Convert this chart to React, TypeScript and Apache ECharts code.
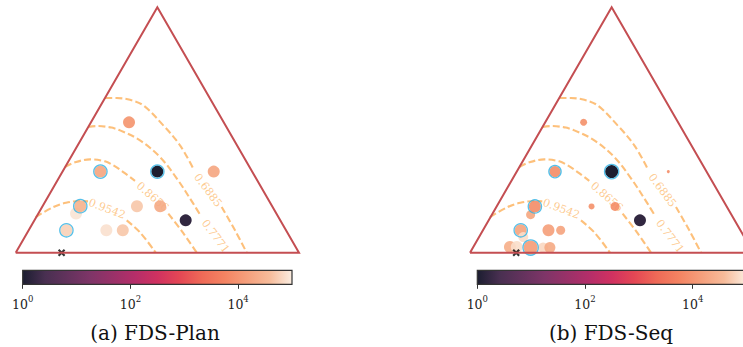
import React, { useEffect, useRef } from "react";
import * as echarts from "echarts";

const W = 743;
const H = 347;
const H3 = Math.sqrt(3) / 2;

// rocket colormap (evenly spaced stops, log10 value 0..5)
const ROCKET = [
  "#03051a", "#35193e", "#521c4b", "#701f57", "#8e1b58", "#ad1759", "#cb1b4f",
  "#e13342", "#ed5a45", "#f37651", "#f4956e", "#f6b48f", "#faebdd",
];
const CB_TICKS = [0, 2, 4];

// triangle outline (ternary frame, unit base)
const TRIANGLE = [[0, 0], [0.5, H3], [1, 0], [0, 0]];

// contour levels and their (inline-broken) curves
const CONTOUR_LEVELS = ["0.9542", "0.8656", "0.7771", "0.6885"];
const C9542_A = [[0.0706, 0.1257], [0.1327, 0.161], [0.1776, 0.1758], [0.227, 0.1821], [0.2552, 0.1811]];
const C9542_B = [[0.3918, 0.114], [0.4387, 0.0717], [0.4942, 0]];
const C8656_A = [[0.174, 0.3022], [0.2093, 0.3187], [0.2623, 0.3293], [0.3152, 0.3223], [0.3445, 0.3082], [0.3798, 0.2845], [0.4211, 0.2534]];
const C8656_B = [[0.5387, 0.1377], [0.587, 0.0752], [0.6389, 0]];
const C7771_A = [[0.2563, 0.4433], [0.2859, 0.4469], [0.3329, 0.4423], [0.3682, 0.4317], [0.4388, 0.3964], [0.5094, 0.3374], [0.5683, 0.2623], [0.6269, 0.173], [0.6541, 0.1281]];
const C6885_A = [[0.3156, 0.5457], [0.3565, 0.5457], [0.4034, 0.5394], [0.4504, 0.5199], [0.521, 0.4493], [0.58, 0.3788], [0.6269, 0.2965]];
const C6885_B = [[0.7271, 0.161], [0.7741, 0.0787], [0.8154, 0]];
const CONTOUR_SEGMENTS = [C9542_A, C9542_B, C8656_A, C8656_B, C7771_A, C6885_A, C6885_B];
const LABEL_X = [0.3223, 0.4829, 0.7053, 0.6788];
const LABEL_Y = [0.1546, 0.197, 0.0575, 0.2199];
const LABEL_ROT = [-21, -41, -53, -53];

// (a) FDS-Plan points
const PLAN_X = [0.4, 0.299, 0.5, 0.699, 0.213, 0.228, 0.428, 0.51, 0.6, 0.179, 0.32, 0.378];
const PLAN_Y = [0.46, 0.286, 0.286, 0.286, 0.138, 0.164, 0.164, 0.164, 0.114, 0.079, 0.079, 0.079];
const PLAN_LOGV = [4.15, 4.38, 0, 4.38, 4.95, 4.55, 4.72, 4.45, 0.2, 4.8, 4.92, 4.72];
const PLAN_SIZE = [12, 12, 12, 12, 12, 12, 12, 12, 12, 12, 12, 12];
const PLAN_RING = [0, 1, 1, 0, 0, 1, 0, 0, 0, 1, 0, 0];
const PLAN_MARK = [0.162, 0];

// (b) FDS-Seq points
const SEQ_X = [0.401, 0.3, 0.5, 0.7, 0.214, 0.229, 0.429, 0.512, 0.6, 0.179, 0.188, 0.277, 0.32, 0.141, 0.165, 0.214, 0.258, 0.282];
const SEQ_Y = [0.46, 0.286, 0.286, 0.286, 0.134, 0.163, 0.163, 0.163, 0.114, 0.079, 0.055, 0.079, 0.079, 0.02, 0.02, 0.018, 0.018, 0.018];
const SEQ_LOGV = [4.1, 4.05, 0, 4.05, 4.4, 4.05, 4.1, 4.05, 0.2, 4.35, 4.9, 4.3, 4.35, 4.5, 4.9, 4.25, 4.85, 4.45];
const SEQ_SIZE = [7, 11, 13, 3, 9, 12, 6, 9, 12, 12, 10, 12, 9, 12, 12, 14, 10, 11];
const SEQ_RING = [0, 1, 1, 0, 0, 1, 0, 0, 0, 1, 0, 0, 0, 0, 0, 1, 0, 0];
const SEQ_MARK = [0.163, 0];

const CAPTIONS = ["(a) FDS-Plan", "(b) FDS-Seq"];

// layout
const PANEL_LEFT = [15.7, 470];
const TRI_TOP = 7.3;
const TRI_W = 283.3;
const CB_LEFT = [22.7, 477.3];
const CB_TOP = 270.3;
const CB_W = 269.3;
const CB_H = 14;
const CAP_X = [155, 611];
const CAP_Y = 333;

const SERIF = '"DejaVu Serif", serif';
const CONTOUR_COLOR = "#fdbd74";
const RING_COLOR = "#2ab0e4";
const TRI_COLOR = "#c44e52";
const XPATH = "path://M2,0 L5,3 L8,0 L10,2 L7,5 L10,8 L8,10 L5,7 L2,10 L0,8 L3,5 L0,2 Z";

export default function App() {
  const ref = useRef<HTMLDivElement>(null);
  useEffect(() => {
    document.body.style.margin = "0";
    const chart = echarts.init(ref.current!, null, { renderer: "svg", width: W, height: H });

    const series: any[] = [];
    const pointSeriesIdx: number[] = [];

    const panel = (gi: number, xs: number[], ys: number[], lv: number[], sz: number[], ring: number[], mark: number[]) => {
      CONTOUR_SEGMENTS.forEach((seg) => {
        series.push({
          type: "line", xAxisIndex: gi, yAxisIndex: gi, data: seg, symbol: "none", showSymbol: false,
          smooth: 0.35, clip: false, silent: true, z: 2,
          lineStyle: { color: CONTOUR_COLOR, width: 2.1, type: [7, 3.2], opacity: 0.95 },
        });
      });
      series.push({
        type: "scatter", xAxisIndex: gi, yAxisIndex: gi, symbolSize: 0, clip: false, silent: true, z: 2,
        data: CONTOUR_LEVELS.map((lvl, i) => ({
          value: [LABEL_X[i], LABEL_Y[i]],
          label: { show: true, formatter: lvl, rotate: LABEL_ROT[i] },
        })),
        label: { position: "inside", fontSize: 11, fontFamily: SERIF, color: CONTOUR_COLOR },
      });
      series.push({
        type: "scatter", xAxisIndex: gi, yAxisIndex: gi, z: 4, clip: false, silent: true,
        symbol: XPATH, symbolSize: 7.5, itemStyle: { color: "#000" }, data: [mark],
      });
      pointSeriesIdx.push(series.length);
      series.push({
        type: "scatter", xAxisIndex: gi, yAxisIndex: gi, z: 3, clip: false, silent: true,
        data: xs.map((x, i) => [x, ys[i], lv[i], sz[i]]),
        symbolSize: (d: number[]) => d[3],
        itemStyle: { opacity: 0.9 },
      });
      series.push({
        type: "scatter", xAxisIndex: gi, yAxisIndex: gi, z: 4, clip: false, silent: true,
        data: xs.map((x, i) => [x, ys[i], sz[i] + 1.3]).filter((_, i) => ring[i] === 1),
        symbolSize: (d: number[]) => d[2],
        itemStyle: { color: "rgba(0,0,0,0)", borderColor: RING_COLOR, borderWidth: 1.3 },
      });
      series.push({
        type: "line", xAxisIndex: gi, yAxisIndex: gi, data: TRIANGLE, symbol: "none", showSymbol: false,
        clip: false, silent: true, z: 5,
        lineStyle: { color: TRI_COLOR, width: 2, join: "miter" },
      });
    };
    panel(0, PLAN_X, PLAN_Y, PLAN_LOGV, PLAN_SIZE, PLAN_RING, PLAN_MARK);
    panel(1, SEQ_X, SEQ_Y, SEQ_LOGV, SEQ_SIZE, SEQ_RING, SEQ_MARK);

    const grids: any[] = [];
    const xAxes: any[] = [];
    const yAxes: any[] = [];
    [0, 1].forEach((p) => {
      grids.push({ left: PANEL_LEFT[p], top: TRI_TOP, width: TRI_W, height: TRI_W * H3, outerBoundsMode: "none" });
      xAxes.push({ type: "value", gridIndex: p, min: 0, max: 1, show: false });
      yAxes.push({ type: "value", gridIndex: p, min: 0, max: H3, show: false });
    });
    [0, 1].forEach((p) => {
      grids.push({ left: CB_LEFT[p], top: CB_TOP, width: CB_W, height: CB_H, outerBoundsMode: "none" });
      xAxes.push({
        type: "value", gridIndex: 2 + p, min: 0, max: 5, interval: 2, position: "bottom",
        splitLine: { show: false }, axisLine: { show: false },
        axisTick: { show: true, length: 4.5, lineStyle: { color: "#333", width: 1 }, customValues: CB_TICKS },
        axisLabel: {
          show: true, margin: 10, color: "#222", customValues: CB_TICKS,
          formatter: (v: number) => (CB_TICKS.indexOf(v) >= 0 ? `{b|10}{s|${v}}` : ""),
          rich: {
            b: { fontSize: 12.5, fontFamily: SERIF, color: "#222", lineHeight: 17, verticalAlign: "bottom" },
            s: { fontSize: 8.5, fontFamily: SERIF, color: "#222", lineHeight: 10, verticalAlign: "top" },
          },
        },
      });
      yAxes.push({ type: "value", gridIndex: 2 + p, min: 0, max: 1, show: false });
    });

    const grad = () =>
      new echarts.graphic.LinearGradient(0, 0, 1, 0, ROCKET.map((c, i) => ({ offset: i / (ROCKET.length - 1), color: c })));

    const graphic: any[] = [];
    [0, 1].forEach((p) => {
      graphic.push({
        type: "rect", shape: { x: CB_LEFT[p], y: CB_TOP, width: CB_W, height: CB_H },
        style: { fill: grad(), opacity: 0.9 }, z: 10,
      });
      graphic.push({
        type: "rect", shape: { x: CB_LEFT[p], y: CB_TOP, width: CB_W, height: CB_H },
        style: { fill: "none", stroke: "#333", lineWidth: 1.2 }, z: 11,
      });
      graphic.push({
        type: "text", x: CAP_X[p], y: CAP_Y,
        style: { text: CAPTIONS[p], font: `20px ${SERIF}`, fill: "#111", align: "center", verticalAlign: "middle" },
        z: 11,
      });
    });

    chart.setOption({
      animation: false,
      backgroundColor: "#fff",
      grid: grids,
      xAxis: xAxes,
      yAxis: yAxes,
      visualMap: [{
        type: "continuous", show: false, min: 0, max: 5, dimension: 2,
        seriesIndex: pointSeriesIdx, inRange: { color: ROCKET },
      }],
      graphic,
      series,
    });
    return () => chart.dispose();
  }, []);
  return <div ref={ref} style={{ width: W, height: H, position: "absolute", left: 0, top: 0 }} />;
}
